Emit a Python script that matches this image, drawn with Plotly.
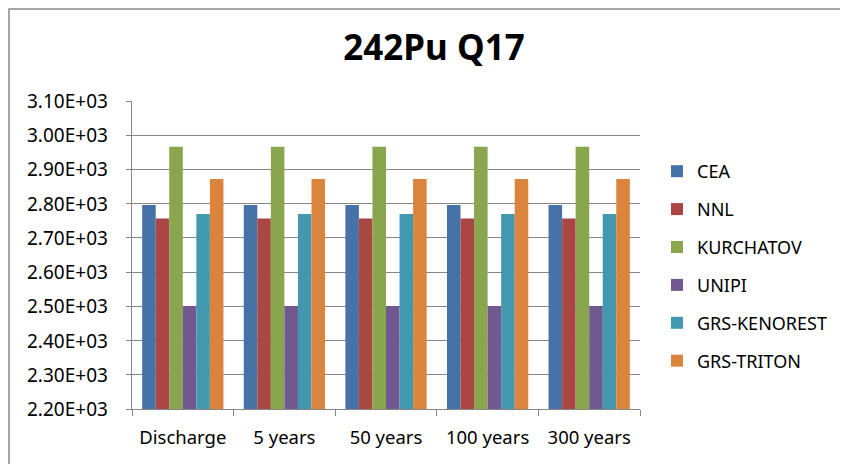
import plotly.graph_objects as go

categories = ["Discharge", "5 years", "50 years", "100 years", "300 years"]
series_names = ["CEA", "NNL", "KURCHATOV", "UNIPI", "GRS-KENOREST", "GRS-TRITON"]
cea = [2796, 2796, 2796, 2796, 2796]
nnl = [2757, 2757, 2757, 2757, 2757]
kurchatov = [2966, 2966, 2966, 2966, 2966]
unipi = [2501, 2501, 2501, 2501, 2501]
grs_kenorest = [2770, 2770, 2770, 2770, 2770]
grs_triton = [2872, 2872, 2872, 2872, 2872]
y_ticks = [2200, 2300, 2400, 2500, 2600, 2700, 2800, 2900, 3000, 3100]
y_tick_labels = ["2.20E+03", "2.30E+03", "2.40E+03", "2.50E+03", "2.60E+03",
                 "2.70E+03", "2.80E+03", "2.90E+03", "3.00E+03", "3.10E+03"]

colors = ["#4572A7", "#AA4643", "#89A54E", "#71588F", "#4198AF", "#DB843D"]
all_values = [cea, nnl, kurchatov, unipi, grs_kenorest, grs_triton]

FONT = "Noto Sans"
OFF = 8  # page body margin
PL, PR, PT, PB = 132, 640, 101, 409  # plot area in page pixels
W, H = 848, 464
pw, ph = PR - PL, PB - PT

fig = go.Figure()
for name, vals, col in zip(series_names, all_values, colors):
    fig.add_trace(go.Bar(
        x=categories, y=vals, name=name, legendgroup=name,
        marker=dict(color=col, line=dict(width=0)),
    ))

fig.update_layout(
    width=W, height=H,
    margin=dict(l=PL - OFF, r=W + OFF - PR, t=PT - OFF, b=H + OFF - PB, pad=0),
    paper_bgcolor="white", plot_bgcolor="white",
    barmode="group", bargap=0.2, bargroupgap=0,
    title=dict(text="<b>242Pu Q17</b>", x=(434 - PL) / pw, xref="paper", xanchor="center",
               y=1 - (48 - OFF) / H, yref="container", yanchor="middle",
               font=dict(family=FONT, size=35, color="black")),
    font=dict(family=FONT, color="black"),
    legend=dict(x=(657 - PL) / pw, xanchor="left", y=(PB - 266) / ph, yanchor="middle",
                font=dict(family=FONT, size=18, color="black"),
                traceorder="grouped", tracegroupgap=11.5,
                itemwidth=30),
    showlegend=True,
)
fig.update_yaxes(
    range=[2200, 3100], tickvals=y_ticks, showticklabels=False,
    showgrid=True, gridcolor="#868686", gridwidth=1,
    showline=True, linecolor="#868686", linewidth=1,
    ticks="outside", ticklen=5, tickcolor="#868686",
    zeroline=False,
)
fig.update_xaxes(
    showline=True, linecolor="#868686", linewidth=1,
    ticks="outside", ticklen=6, tickcolor="#868686", tickson="boundaries",
    ticklabelstandoff=12,
    tickfont=dict(family=FONT, size=18.5, color="black"),
    showgrid=False,
)
# y tick labels, placed with a wider gap from the axis as in the reference
for v, lab in zip(y_ticks, y_tick_labels):
    fig.add_annotation(x=0, xref="paper", y=v, yref="y", text=lab,
                       showarrow=False, xanchor="right", yanchor="middle",
                       xshift=-22, font=dict(family=FONT, size=19, color="black"))
# chart border
fig.add_shape(type="rect", xref="paper", yref="paper",
              x0=(OFF + 1 - PL) / pw, x1=(OFF + W + 10 - PL) / pw,
              y0=(PB - (OFF + H + 10)) / ph, y1=(PB - (OFF + 1)) / ph,
              line=dict(color="#888888", width=1.5), layer="below")

fig.write_html("out.html")
